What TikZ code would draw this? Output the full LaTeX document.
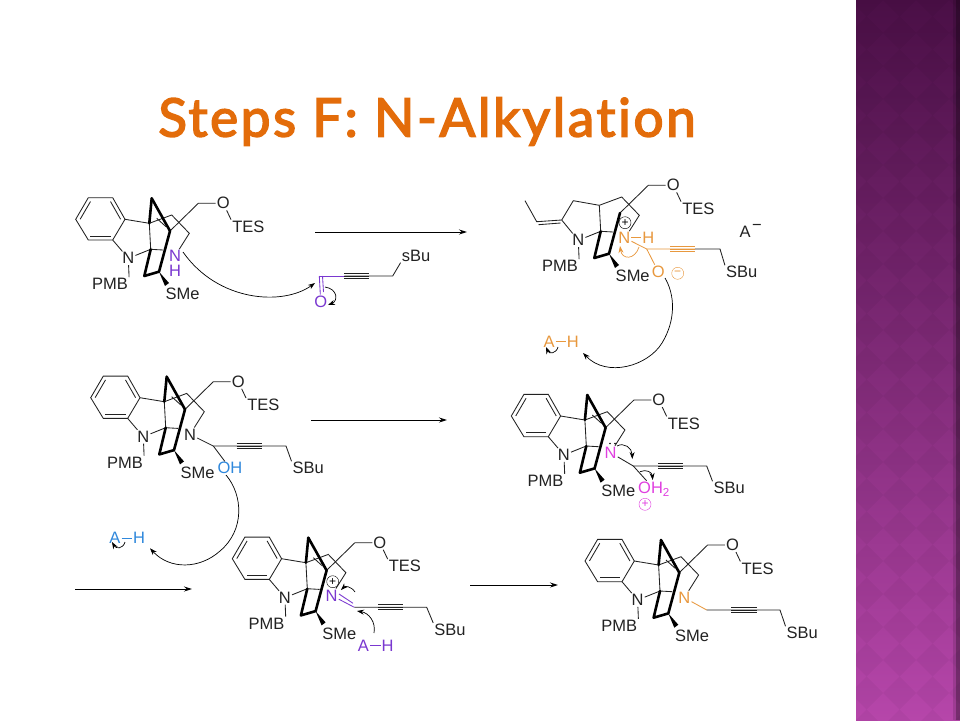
\documentclass[tikz,border=0pt]{standalone}
\usepackage{fontspec}
\setmainfont{Liberation Sans}
\newfontfamily\titlefont[LetterSpace=5,Ligatures=NoCommon,FakeBold=3]{Lato}
\usetikzlibrary{calc,arrows.meta,positioning}
\definecolor{nviolet}{HTML}{7A38D0}
\definecolor{norange}{HTML}{E8983E}
\definecolor{nblue}{HTML}{2F88DC}
\definecolor{nmagenta}{HTML}{E03FE0}
\definecolor{ink}{HTML}{222222}
\definecolor{titleorange}{HTML}{E36C0A}
\tikzset{
atom/.style={inner sep=1pt, text=ink, font=\fontsize{16.5}{16.5}\selectfont},
charge/.style={circle, inner sep=0pt, minimum size=12pt, font=\fontsize{12}{12}\selectfont},
bond/.style={draw=ink, line width=0.85pt},
heavy/.style={draw=black, line width=2.6pt, line cap=round, line join=round},
to/.style={-{Stealth[length=7pt,width=5pt]}, draw=black, line width=0.7pt},
rxn/.style={-{Stealth[length=8pt,width=5pt]}, draw=black, line width=0.9pt},
}
% ring system shared by all pictures but the second: #1,#2 shift, #3 prefix, #4 colour and text of ring N
\newcommand{\scaffold}[4]{
\begin{scope}[shift={(#1,#2)}, name prefix=#3-]
\coordinate (b1) at (75.7,219.3);
\coordinate (b2) at (88.3,197.7);
\coordinate (b3) at (112.7,197.7);
\coordinate (b4) at (125,219.3);
\coordinate (b5) at (112.7,240);
\coordinate (b6) at (88.3,240);
\coordinate (cen) at (100.5,218.9);
\coordinate (apex) at (151.7,198.3);
\draw[bond] (b1)--(b2)--(b3)--(b4)--(b5)--(b6)--cycle;
\foreach \a/\b in {b1/b2,b3/b4,b5/b6}
  \draw[bond] ($(\a)!.18!(cen)$) -- ($(\b)!.18!(cen)$);
\lowerhalf{#4}
\draw[bond] (b4) -- (c3);
\draw[bond] (b5) -- (nind);
\draw[heavy] (apex) -- (c3);
\draw[heavy] (apex) -- (ca);
\draw[bond] (156.7,218.3) -- (166,226.7);
\end{scope}
}
% the part that the second picture has too
\newcommand{\lowerhalf}[1]{
\coordinate (c3) at (149.3,223.3);
\coordinate (c2) at (150.7,249.3);
\coordinate (ca) at (170,231);
\coordinate (cb) at (159,271.7);
\coordinate (cc) at (144.3,276);
\coordinate (cd) at (163,250);
\coordinate (r1) at (171.7,215);
\coordinate (r2) at (189.3,233.3);
\coordinate (ch2) at (198.3,203.3);
\node[atom] (nind) at (128.3,258.3) {N};
\node[atom] (pmb) at (110,284) {PMB};
\node[atom] (oxy) at (223.3,203.3) {O};
\node[atom] (tes) at (248.3,226.7) {TES};
\node[atom] (sme) at (182.7,294.3) {SMe};
\node[atom] (nring) at (175,256) {#1};
\draw[bond] (nind) -- (pmb.north east);
\draw[bond] (nind) -- (c2);
\draw[bond] (c3) -- (c2);
\draw[bond] (c2) -- (cd);
\draw[bond] (c3) -- (r1) -- (r2) -- (nring);
\draw[bond] (ca) -- (ch2) -- (oxy);
\draw[bond] (oxy) -- (tes.north west);
\draw[heavy] (c2) -- (cc) -- (cb) -- (ca);
\fill[black] (cb) -- (169,283) -- (165,286) -- cycle;
}
% three strokes of a triple bond
\newcommand{\tripleb}[4]{
\foreach \d in {-2.6,0,2.6}
  \draw[#4] (#1,#3+\d) -- (#2,#3+\d);
}
\begin{document}
\begin{tikzpicture}[x=1pt,y=-1pt]
\useasboundingbox (0,0) rectangle (960,720);
%sidebar
\fill[white] (0,0) rectangle (856,720);
\shade[top color={rgb,255:red,74;green,15;blue,70}, bottom color={rgb,255:red,182;green,70;blue,170}] (856,0) rectangle (960,720);
\begin{scope}
\clip (856,0) rectangle (960,720);
\foreach \i in {0,...,4}
  \foreach \j in {0,...,23}
    \fill[black, opacity=0.035] (850+\i*33,\j*33) -- ++(16.5,-16.5) -- ++(16.5,16.5) -- ++(-16.5,16.5) -- cycle;
\end{scope}
\fill[black, opacity=0.12] (953,0) rectangle (960,720);
\fill[black, opacity=0.25] (956,0) rectangle (960,720);
%title
\node[text=titleorange, font=\titlefont\fontsize{53}{53}\selectfont, anchor=base] (title) at (427,136.5) {Steps F: N-Alkylation};
%first picture
\scaffold{0}{0}{m1}{\textcolor{nviolet}{N}}
\node[atom, text=nviolet] (h1) at (175,271) {H};
\coordinate (c1) at (319.3,276);
\coordinate (t1a) at (344.3,276);
\coordinate (t1b) at (369.3,276);
\coordinate (c1b) at (392.7,276);
\node[atom, text=nviolet] (o1) at (320.7,301.7) {O};
\node[atom] (sbu1) at (416,255.7) {sBu};
\draw[bond, nviolet] (c1) -- (t1a);
\draw[bond] (t1a) -- (t1b) -- (c1b) -- (sbu1.south west);
\tripleb{344.3}{369.3}{276}{bond}
\draw[bond, nviolet] (c1) -- (o1);
\draw[bond, nviolet] (322.5,276) -- (323.5,292);
\draw[to] (183,252) .. controls (218,302) and (283,306) .. (315,283);
\draw[to] (325,287) .. controls (338,289) and (338,301) .. (328,305);
%second picture
\begin{scope}[shift={(450,-18)}, name prefix=m2-]
\lowerhalf{\phantom{N}}
\coordinate (c5) at (111.7,238);
\coordinate (c6) at (123.3,218.7);
\coordinate (eth) at (86.7,239.7);
\coordinate (me) at (75,218.7);
\draw[bond] (c3) -- (c6) -- (c5) -- (m2-nind);
\draw[bond] (c5) -- (eth) -- (me);
\draw[bond] (110.5,241) -- (88.5,242.7);
\end{scope}
\node[atom, text=norange] (n2) at (624.3,237.7) {N};
\node[atom, text=norange] (h2) at (648.3,237.7) {H};
\node[charge, draw=black] (plus2) at (625,222.7) {+};
\coordinate (c2a) at (646.7,249);
\coordinate (t2b) at (695,249);
\coordinate (c2b) at (720,249);
\node[atom, text=norange] (o2) at (658.3,271.7) {O};
\node[charge, draw=norange, text=norange] (minus2) at (677.7,273.3) {\textminus};
\node[atom] (sbu2) at (741.7,272.3) {SBu};
\node[atom] (a2) at (745,232.3) {A};
\node[atom] (neg2) at (757,227) {\textminus};
\node[atom, text=norange] (a2h) at (549,341.7) {A};
\node[atom, text=norange] (a2h2) at (572.7,341.7) {H};
\draw[bond, norange] (n2) -- (h2);
\draw[bond, norange] (n2) -- (c2a) -- (t2b);
\draw[bond, norange] (c2a) -- (o2);
\draw[bond] (t2b) -- (c2b) -- (sbu2.north west);
\tripleb{670}{695}{249}{bond, norange}
\draw[bond, norange] (a2h) -- (a2h2);
\draw[to, norange] (639,247) .. controls (635,260) and (622,260) .. (620,246);
\draw[to] (665,278) .. controls (675,295) and (676,320) .. (662,343) .. controls (648,366) and (607,378) .. (583,353);
\draw[to] (558,347) .. controls (556,354) and (549,354) .. (546,347);
%third picture
\scaffold{15}{178.4}{m3}{N}
\coordinate (c3a) at (213.3,446);
\coordinate (t3a) at (236.7,446);
\coordinate (t3b) at (261.7,446);
\coordinate (c3b) at (286,446);
\node[atom, text=nblue] (o3) at (230,468.3) {OH};
\node[atom] (sbu3) at (308.3,468.3) {SBu};
\node[atom, text=nblue] (a3) at (115,538.3) {A};
\node[atom, text=nblue] (h3) at (139,538.3) {H};
\draw[bond] (m3-nring) -- (c3a) -- (t3a) -- (t3b) -- (c3b) -- (sbu3.north west);
\tripleb{236.7}{261.7}{446}{bond}
\draw[bond] (c3a) -- (o3);
\draw[bond, nblue] (a3) -- (h3);
\draw[to] (226,475) .. controls (243,495) and (245,530) .. (220,551) .. controls (200,569) and (170,570) .. (150,548.3);
\draw[to] (125,542) .. controls (123,549) and (116,549) .. (112,542);
%fourth picture
\scaffold{435.6}{196.7}{m4}{\textcolor{nmagenta}{N}}
\coordinate (c4a) at (633.3,466);
\coordinate (t4a) at (658.3,466);
\coordinate (t4b) at (682.7,466);
\coordinate (c4b) at (706.7,466);
\node[atom, text=nmagenta] (o4) at (654,489) {OH\textsubscript{2}};
\node[atom] (sbu4) at (729.3,488.3) {SBu};
\node[charge, draw=nmagenta, text=nmagenta] (plus4) at (645,504.3) {+};
\fill[black] (610,443.5) circle (0.9pt) (615,443.5) circle (0.9pt);
\draw[bond] (m4-nring) -- (c4a) -- (t4a) -- (t4b) -- (c4b) -- (sbu4.north west);
\tripleb{658.3}{682.7}{466}{bond}
\draw[bond] (c4a) -- (o4);
\draw[to] (617,446) .. controls (624,442) and (632,448) .. (632.3,459);
\draw[to] (640,471.7) .. controls (646,469) and (652,472) .. (652.7,480);
%fifth picture
\scaffold{156.6}{339.4}{m5}{\textcolor{nviolet}{N}}
\node[charge, draw=black] (plus5) at (332.7,581.7) {+};
\coordinate (c5a) at (354.3,607.3);
\coordinate (t5a) at (378.3,607.3);
\coordinate (t5b) at (403.3,607.3);
\coordinate (c5b) at (426.7,607.3);
\node[atom] (sbu5) at (450,630) {SBu};
\node[atom, text=nviolet] (a5) at (363.3,645.7) {A};
\node[atom, text=nviolet] (h5) at (387.7,645.7) {H};
\draw[bond, nviolet] (m5-nring) -- (c5a);
\draw[bond, nviolet] (339,594) -- (353,603.3);
\draw[bond] (c5a) -- (t5a) -- (t5b) -- (c5b) -- (sbu5.north west);
\tripleb{378.3}{403.3}{607.3}{bond}
\draw[bond, nviolet] (a5) -- (h5);
\draw[to] (355,592) .. controls (351,586) and (345,586) .. (341,590);
\draw[to] (374,633) .. controls (376,622) and (369,613) .. (357,611);
%sixth picture
\scaffold{509.3}{341.7}{m6}{\textcolor{norange}{N}}
\coordinate (c6a) at (706.7,610);
\coordinate (t6a) at (731,610);
\coordinate (t6b) at (756.7,610);
\coordinate (c6b) at (780,610);
\node[atom] (sbu6) at (802.3,633.3) {SBu};
\draw[bond, norange] (m6-nring) -- (c6a);
\draw[bond] (c6a) -- (t6a) -- (t6b) -- (c6b) -- (sbu6.north west);
\tripleb{731}{756.7}{610}{bond}
%reaction arrows
\foreach \nm/\xa/\xb/\yy in {r1/315/467/232,r2/311/447/420,r3/75/192/589,r4/470/558/585}{
  \coordinate (\nm s) at (\xa,\yy);
  \coordinate (\nm e) at (\xb,\yy);
  \draw[rxn] (\nm s) -- (\nm e);
}
\end{tikzpicture}
\end{document}
